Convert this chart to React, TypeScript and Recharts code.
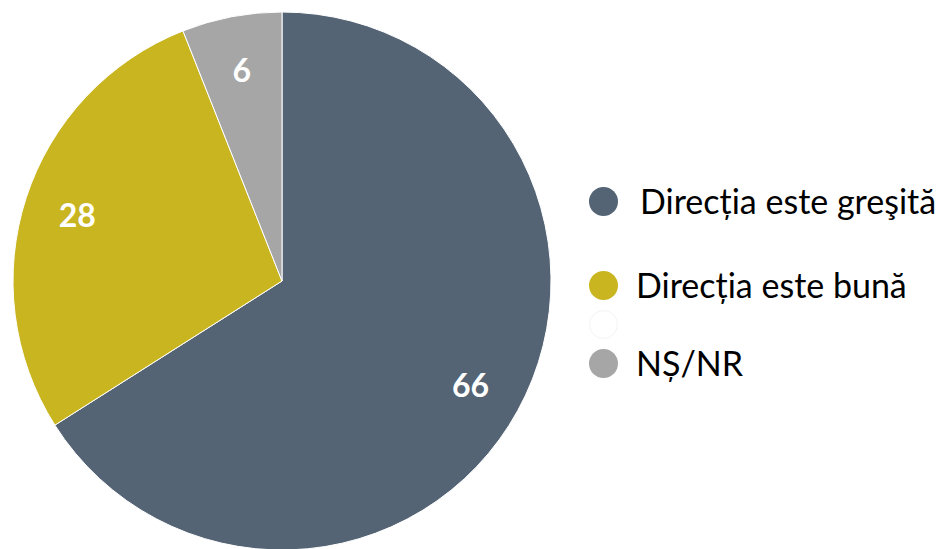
import { PieChart, Pie, Cell, Legend } from 'recharts';

const categories = ['Direcția este greşită', 'Direcția este bună', 'NȘ/NR'];
const values = [66, 28, 6];
const COLORS = ['#546474', '#C9B520', '#A6A6A6'];

// legend has an extra blank entry between the last two
const legendNames = ['Direcția este greşită', 'Direcția este bună', '', 'NȘ/NR'];
const legendColors = ['#546474', '#C9B520', '#FFFFFF', '#A6A6A6'];
const legendGaps = [0, 84, 39, 39];

const data = categories.map((name, i) => ({ name, value: values[i] }));

const RADIAN = Math.PI / 180;

const renderLabel = (props: any) => {
  const { cx, cy, midAngle, outerRadius, value } = props;
  const r = outerRadius * 0.8;
  const x = cx + r * Math.cos(-midAngle * RADIAN);
  const y = cy + r * Math.sin(-midAngle * RADIAN);
  return (
    <text
      x={x}
      y={y}
      fill="#fff"
      textAnchor="middle"
      dominantBaseline="central"
      fontSize={32}
      fontWeight="bold"
      fontFamily="Lato, 'Open Sans', sans-serif"
    >
      {value}
    </text>
  );
};

const renderLegend = () => {
  let y = 0;
  return (
    <div style={{ position: 'relative', width: 370, height: 200 }}>
      {legendNames.map((name, i) => {
        y += legendGaps[i];
        return (
          <div key={i} style={{ position: 'absolute', left: 0, top: y, display: 'flex', alignItems: 'center', height: 30 }}>
            <div
              style={{
                width: 29,
                height: 29,
                borderRadius: '50%',
                background: legendColors[i],
                border: legendColors[i] === '#FFFFFF' ? '1px solid #f4f4f4' : 'none',
                boxSizing: 'border-box',
                flexShrink: 0,
              }}
            />
            <span
              style={{
                marginLeft: i === 0 ? 22 : 18,
                fontSize: 34,
                lineHeight: '30px',
                color: '#000',
                fontFamily: "Lato, 'Open Sans', sans-serif",
                whiteSpace: 'nowrap',
              }}
            >
              {name}
            </span>
          </div>
        );
      })}
    </div>
  );
};

export default function App() {
  return (
    <div style={{ position: 'absolute', left: 0, top: 0, width: 946, height: 549, background: '#fff' }}>
      <PieChart width={946} height={549} margin={{ top: 0, right: 0, bottom: 0, left: 0 }}>
        <Pie
          data={data}
          dataKey="value"
          nameKey="name"
          cx={282}
          cy={281}
          outerRadius={269}
          startAngle={90}
          endAngle={-270}
          stroke="#fff"
          strokeWidth={1}
          label={renderLabel}
          labelLine={false}
          isAnimationActive={false}
        >
          {data.map((entry, index) => (
            <Cell key={`cell-${index}`} fill={COLORS[index]} />
          ))}
        </Pie>
        <Legend content={renderLegend} wrapperStyle={{ left: 589, top: 186, width: 370 }} />
      </PieChart>
    </div>
  );
}
